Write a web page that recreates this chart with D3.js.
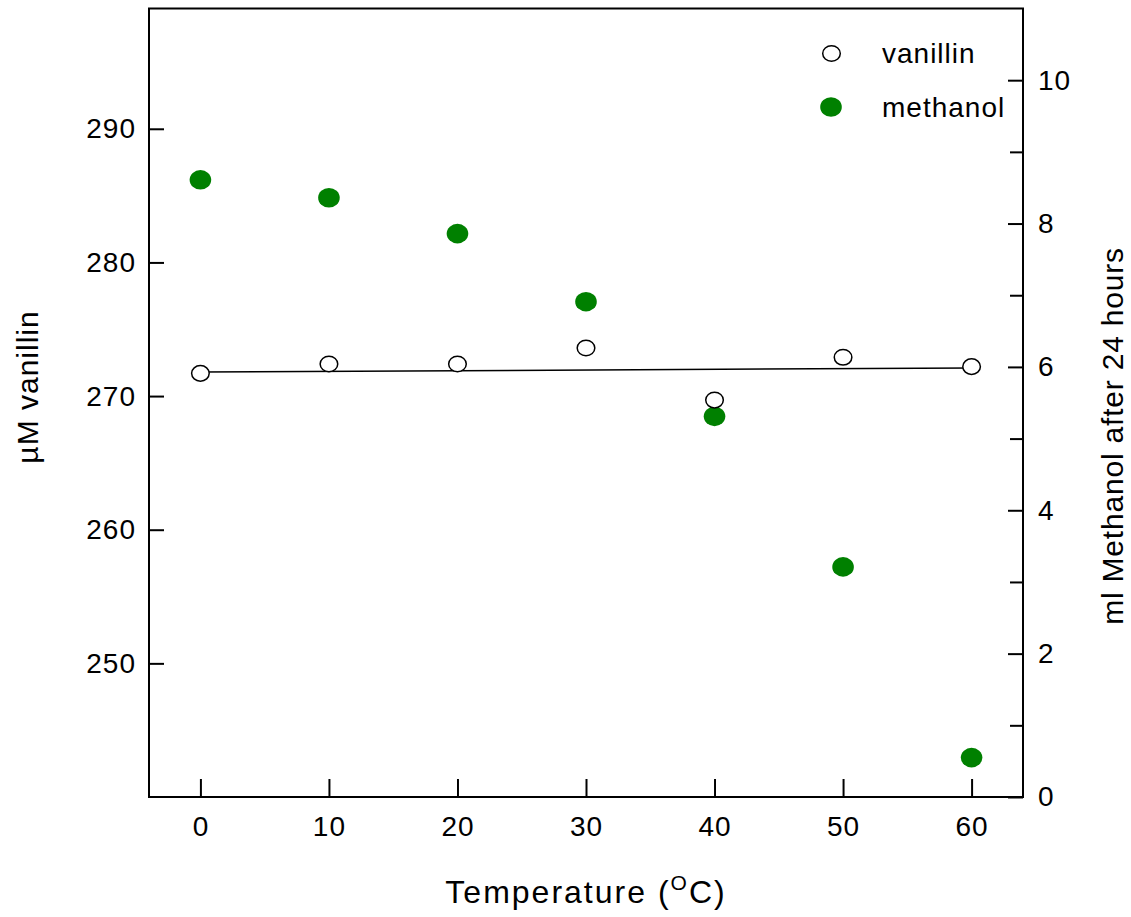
<!DOCTYPE html>
<html>
<head>
<meta charset="utf-8">
<script src="https://cdn.jsdelivr.net/npm/d3@7"></script>
<style>
  html, body { margin: 0; padding: 0; background: #fff; }
  svg text { font-family: "Liberation Sans", Arial, sans-serif; fill: #000; }
</style>
</head>
<body>
<svg id="chart" width="1131" height="917"></svg>
<script>
// Temperature series (°C)
const temperatures = [0, 10, 20, 30, 40, 50, 60];
// Vanillin concentration (µM), left axis
const vanillin = [271.7, 272.4, 272.4, 273.6, 269.7, 272.9, 272.2];
// Methanol recovered after 24 hours (ml), right axis
const methanol = [8.61, 8.36, 7.86, 6.91, 5.31, 3.21, 0.55];
// Linear fit of vanillin vs temperature: endpoints at 0 and 60 °C
const fitX = [0, 60];
const fitY = [271.8, 272.1];

const xTicks = [0, 10, 20, 30, 40, 50, 60];
const leftTicks = [250, 260, 270, 280, 290];
const rightMajorTicks = [0, 2, 4, 6, 8, 10];
const rightMinorTicks = [1, 3, 5, 7, 9];

const svg = d3.select("#chart");
const plot = { left: 149, right: 1023, top: 8.5, bottom: 797 };

const x = d3.scaleLinear().domain([-4, 64]).range([plot.left, plot.right]);
const yL = d3.scaleLinear().domain([240, 299]).range([plot.bottom, plot.top]);
const yR = d3.scaleLinear().domain([0, 11]).range([plot.bottom, plot.top]);

const fontSize = 28;
const green = "#008000";

// Frame
svg.append("rect")
  .attr("x", plot.left).attr("y", plot.top)
  .attr("width", plot.right - plot.left).attr("height", plot.bottom - plot.top)
  .attr("fill", "none").attr("stroke", "#000").attr("stroke-width", 2);

// Bottom axis: inward ticks
const xAxis = d3.axisBottom(x).tickValues(xTicks).tickSizeInner(-18).tickSizeOuter(0).tickPadding(19);
const gx = svg.append("g").attr("transform", `translate(0,${plot.bottom})`).call(xAxis);

// Left axis: inward ticks
const yAxisL = d3.axisLeft(yL).tickValues(leftTicks).tickSizeInner(-15).tickSizeOuter(0).tickPadding(13);
const gl = svg.append("g").attr("transform", `translate(${plot.left},0)`).call(yAxisL);

// Right axis: inward ticks, labels outside
const yAxisR = d3.axisRight(yR).tickValues(rightMajorTicks).tickSizeInner(-15).tickSizeOuter(0).tickPadding(15);
const gr = svg.append("g").attr("transform", `translate(${plot.right},0)`).call(yAxisR);
const yAxisRMinor = d3.axisRight(yR).tickValues(rightMinorTicks).tickSizeInner(-13).tickSizeOuter(0).tickFormat("");
const grm = svg.append("g").attr("transform", `translate(${plot.right},0)`).call(yAxisRMinor);

[gx, gl, gr, grm].forEach(g => {
  g.select(".domain").remove();
  g.selectAll(".tick line").attr("stroke", "#000").attr("stroke-width", 2);
  g.selectAll(".tick text")
    .attr("font-family", "'Liberation Sans', Arial, sans-serif")
    .attr("font-size", fontSize).attr("letter-spacing", 1).attr("fill", "#000");
});

// Vanillin fit line
const fitData = fitX.map((t, i) => [t, fitY[i]]);
svg.append("path")
  .datum(fitData)
  .attr("fill", "none").attr("stroke", "#000").attr("stroke-width", 1.5)
  .attr("d", d3.line().x(d => x(d[0])).y(d => yL(d[1])));

// Methanol points (filled green)
svg.append("g").selectAll("ellipse")
  .data(temperatures.map((t, i) => [t, methanol[i]]))
  .join("ellipse")
  .attr("cx", d => x(d[0])).attr("cy", d => yR(d[1]))
  .attr("rx", 10.8).attr("ry", 9.8)
  .attr("fill", green);

// Vanillin points (open circles)
svg.append("g").selectAll("ellipse")
  .data(temperatures.map((t, i) => [t, vanillin[i]]))
  .join("ellipse")
  .attr("cx", d => x(d[0])).attr("cy", d => yL(d[1]))
  .attr("rx", 8.8).attr("ry", 7.8)
  .attr("fill", "#fff").attr("stroke", "#000").attr("stroke-width", 1.5);

// Legend
const legend = svg.append("g");
legend.append("ellipse").attr("cx", 831.5).attr("cy", 53.5).attr("rx", 8.8).attr("ry", 7.8)
  .attr("fill", "#fff").attr("stroke", "#000").attr("stroke-width", 1.5);
legend.append("text").attr("x", 882).attr("y", 63).attr("font-size", fontSize).attr("letter-spacing", 1).text("vanillin");
legend.append("ellipse").attr("cx", 831).attr("cy", 107).attr("rx", 10.8).attr("ry", 9.8).attr("fill", green);
legend.append("text").attr("x", 882).attr("y", 117).attr("font-size", fontSize).attr("letter-spacing", 1).text("methanol");

// Axis titles
const xt = svg.append("text")
  .attr("x", (plot.left + plot.right) / 2).attr("y", 903)
  .attr("text-anchor", "middle").attr("font-size", 32).attr("letter-spacing", 2);
xt.append("tspan").text("Temperature (");
xt.append("tspan").attr("font-size", 21).attr("dy", -13).text("O");
xt.append("tspan").attr("dy", 13).text("C)");

svg.append("text")
  .attr("transform", `translate(38,387) rotate(-90)`)
  .attr("text-anchor", "middle").attr("font-size", 30).attr("letter-spacing", 1)
  .text("µM vanillin");

svg.append("text")
  .attr("transform", `translate(1123,436) rotate(-90)`)
  .attr("text-anchor", "middle").attr("font-size", 30).attr("letter-spacing", 0.8)
  .text("ml Methanol after 24 hours");
</script>
</body>
</html>
